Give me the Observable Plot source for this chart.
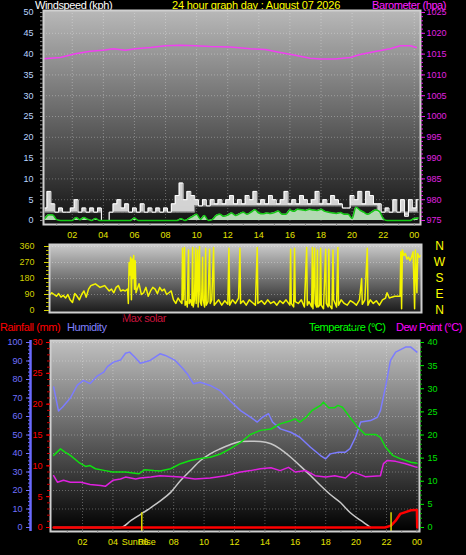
<!DOCTYPE html>
<html><head><meta charset="utf-8">
<script src="https://cdn.jsdelivr.net/npm/d3@7"></script>
<script src="https://cdn.jsdelivr.net/npm/@observablehq/plot@0.6"></script>
<style>
html,body{margin:0;padding:0;background:#000;}
#wrap{position:relative;width:466px;height:555px;overflow:hidden;background:#000;font-family:"Liberation Sans",Arial,sans-serif;}
#wrap svg{position:absolute;left:0;top:0;background:transparent;overflow:visible;}
.lbl{position:absolute;white-space:nowrap;font-size:11px;line-height:11px;letter-spacing:-0.4px;}
</style></head><body>
<div id="wrap">
  <div class="lbl" style="left:35px;top:0px;color:#ffffff">Windspeed (kph)</div>
  <div class="lbl" style="left:172px;top:0px;color:#ffff00;letter-spacing:-0.2px">24 hour graph day : August 07 2026</div>
  <div class="lbl" style="left:372px;top:0px;color:#ff20ff">Barometer (hpa)</div>
  <div class="lbl" style="left:122px;top:313px;color:#c8143c">Max solar</div>
  <div class="lbl" style="left:0px;top:322px;color:#ff0000">Rainfall (mm)</div>
  <div class="lbl" style="left:67px;top:322px;color:#8080ff">Humidity</div>
  <div class="lbl" style="left:309px;top:322px;color:#00ff00;letter-spacing:-0.5px">Temperature (°C)</div>
  <div class="lbl" style="left:396px;top:322px;color:#ff00ff;letter-spacing:-0.5px">Dew Point (°C)</div>
</div>
<script>
// ---------- Top panel: wind (kph) & barometer (hPa) ----------
const baroHour = [0.14,1.23,2.19,3.16,4.12,4.64,5.41,6.05,7.02,7.98,8.95,9.91,10.88,12.16,13.45,14.41,15.38,16.34,17.3,17.95,18.91,19.88,20.52,21.49,22.45,23.1,23.74,24.13];
const baroVal  = [1013.9,1014.2,1015.1,1015.7,1016.0,1016.3,1015.9,1016.3,1016.6,1017.0,1017.1,1017.0,1016.8,1016.7,1016.3,1016.1,1015.4,1014.7,1014.0,1013.8,1013.8,1014.2,1014.9,1015.6,1016.3,1017.0,1017.0,1016.6];

const windHour = [0.25,0.5,0.75,1,1.25,1.5,1.75,2,2.25,2.5,2.75,3,3.25,3.5,3.75,4,4.25,4.5,4.75,5,5.25,5.5,5.75,6,6.25,6.5,6.75,7,7.25,7.5,7.75,8,8.25,8.5,8.75,9,9.25,9.5,9.75,10,10.25,10.5,10.75,11,11.25,11.5,11.75,12,12.25,12.5,12.75,13,13.25,13.5,13.75,14,14.25,14.5,14.75,15,15.25,15.5,15.75,16,16.25,16.5,16.75,17,17.25,17.5,17.75,18,18.25,18.5,18.75,19,19.25,19.5,19.75,20,20.25,20.5,20.75,21,21.25,21.5,21.75,22,22.25,22.5,22.75,23,23.25,23.5,23.75,24,24.25];
const windGust = [3,7,4,2, 3,2,2,3, 5,2,3,2, 3,2,3,0, 0,2,4,5, 3,4,2,3, 2,4,2,3, 2,3,2,3, 2,4,6,9, 5,7,6,5, 3.5,5,3.5,5, 4,5,4,5, 6,4,5,4, 6,5,7,4, 5,4,6,5, 4,5,7,4, 5,4,6,5, 4,5,7,4, 5,4,6,5, 4,3,3,6, 5,7,4,7, 6,4,4,2, 3,2,5,2, 5,1,5,3, 5];
const windLow  = [2,2,2,2, 2,2,2,2, 2,2,2,2, 2,2,2,0, 0,2,2,2, 2,2,2,2, 2,2,2,2, 2,2,2,2, 2,2,2,2, 2,2,2,3.5, 3.5,3.5,3.5,3.5, 3.5,3.5,3.5,3.5, 3.5,3.5,3.5,3.5, 3.5,3.5,3.5,3.5, 3.5,3.5,3.5,3.5, 3.5,3.5,3.5,3.5, 3.5,3.5,3.5,3.5, 3.5,3.5,3.5,3.5, 3.5,3.5,3.5,3.5, 3.5,3,3,3.5, 3.5,3.5,3.5,3.5, 3.5,3.5,2,2, 2,2,2,2, 2,2,2,2, 2];
const windAvg  = [0.5,1.4,1.3,0.2, 0,0,0,0, 0.7,0.2,0.7,0.3, 0,0.5,0,0, 0,0,0,0, 0,0,0,0.6, 0,0,0,0, 0,0,0,0, 0,0,0,0.4, 0,0.5,1.0,1.5, 0.3,1.2,0,0.2, 1.2,1.5,1.0,1.3, 1.8,1.2,1.6,2.0, 1.5,2.0,2.6,1.8, 1.6,1.8,1.7,1.9, 2.3,1.5,1.5,2.5, 2.2,2.7,2.6,2.4, 2.7,2.5,2.4,2.7, 2.2,2.0,1.8,1.7, 1.9,1.5,1.5,0.5, 3.2,2.5,2.0,1.5, 2.0,2.5,2.2,0.5, 0,0,0,0, 0,0,0,0.5, 0.6];

// ---------- Middle panel: wind direction (degrees) ----------
const dirHour = [
  0.2,0.3,0.45,0.6,0.75,0.9,1.05,1.2,1.35,1.5,1.65,1.8,1.95,2.1,2.25,2.4,2.55,2.7,2.85,3.0,3.15,3.3,3.45,3.6,3.75,3.9,4.05,4.2,4.35,4.5,4.65,4.8,4.95,5.1,5.25,
  5.3,5.35,5.4,5.45,5.5,5.55,5.6,5.65,5.7,5.75,5.8,
  6.0,6.15,6.3,6.45,6.6,6.75,6.9,7.05,7.2,7.35,7.5,7.65,7.8,7.95,8.1,8.25,8.4,8.55,8.7,
  8.8,8.84,8.88,8.97,9.01,9.1,9.15,9.23,9.27,9.35,9.45,9.5,9.54,9.62,9.69,9.73,9.82,9.86,9.95,9.99,10.08,10.15,10.19,10.28,10.35,10.39,10.5,10.61,10.65,10.75,10.87,10.91,
  11.0,11.2,11.4,11.6,11.8, 11.87,11.92,12.1,12.3,12.5, 12.59,12.63,12.8,13.0,13.2, 13.4,13.6,13.72,13.76,14.0, 14.2,14.4,14.6,14.8,15.0, 15.2,15.4,15.6,15.85,15.9, 15.94,16.1,16.16,16.2,16.4, 16.6,16.8,16.95,16.99,17.1, 17.28,17.32,17.36,17.47,17.51, 17.6,17.65,17.69,17.8,17.86, 17.9,18.05,18.19,18.23,18.35, 18.4,18.44,18.6,18.67,18.71, 18.9,18.99,19.03,19.2,19.4, 19.6,19.8,20.0,20.2,20.4, 20.54,20.58,20.75,20.91,20.95, 21.1,21.3,21.5,21.7,21.9, 22.1,22.2,22.35,22.5,22.7, 22.9,23.05,
  23.1,23.15,23.2,23.3,23.4,23.5,23.6,23.7,23.8,23.9,24.0,24.05,24.15,24.2,24.3,24.4];
const dirDeg = [
  90,100,90,80,95,75,85,70,90,60,45,95,80,60,90,110,75,120,140,145,150,140,130,135,140,125,110,120,100,130,140,110,115,110,120,
  40,270,200,300,60,290,180,310,120,280,100,
  150,90,100,130,80,110,130,120,95,130,110,120,90,100,110,60,40,70,50,
  40,350,60,355,30,50,20,340,40,60,30,355,20,60,350,40,340,20,360,50,30,300,60,20,350,30,50,345,40,60,355,30,
  40,60,30,55,35, 350,30,60,40,70, 350,40,55,30,60, 45,30,355,40,55, 35,60,40,50,30, 55,40,60,30,345, 40,20,350,50,40, 60,20,355,30,50, 20,355,10,350,40, 20,340,20,30,350, 30,10,345,40,20, 345,30,10,340,60, 20,355,30,60,40, 30,55,45,30,60, 180,35,60,350,30, 60,40,55,30,60, 70,100,70,75,80, 80,80,
  330,10,340,310,320,290,300,280,300,330,10,340,100,320,300,310];
const compassLetters = ["N","W","S","E","N"];
const compassDeg = [360,270,180,90,0];

// ---------- Bottom panel ----------
const humHour = [0.1,0.42,0.68,1.2,1.66,2.06,2.5,2.99,3.4,3.64,4.04,4.5,4.83,5.1,5.45,5.8,6.45,7.1,7.45,8.1,8.6,8.9,9.3,9.74,10.4,11.05,11.7,12.4,13.05,13.5,13.84,14.24,14.5,15.02,15.7,16.3,17.0,17.66,18.0,18.3,18.84,19.3,19.6,19.96,20.3,20.95,21.4,21.6,21.93,22.26,22.6,23.25,23.6,24.0];
const humVal  = [76,63,65,70,77,79.5,77.8,82,84,87,89.4,90.5,94.2,94.8,92,88.8,90.3,93.9,93,90.3,86,83,77.7,78.5,76.8,74,68.6,63.2,59.6,57,59.6,61.5,57,53.3,51.5,48.8,43.4,38.9,37.1,39.8,40.7,40.7,42.7,48.8,57,57.8,59.6,63.2,75.8,90.3,94.8,97.5,97.5,94.8];
const tempHour = [0.1,0.55,0.85,1.2,1.75,2.2,2.5,2.85,3.5,3.97,4.83,5.7,6.1,6.7,7.1,7.8,8.45,9.1,9.76,10.4,11.07,11.7,12.4,13.05,13.7,14.4,15.0,15.7,16.0,16.3,16.7,17.1,17.66,17.85,18.2,18.6,18.8,19.1,19.6,20.1,20.6,21.3,21.6,21.93,22.4,22.9,23.6,24.0];
const tempVal  = [15.6,17.0,16.3,15.6,14.1,13.2,13.4,12.7,12.3,12.0,12.0,11.6,12.5,12.3,12.2,12.7,13.8,14.5,14.9,15.2,15.9,17.0,18.4,20.1,21.0,21.3,22.4,23.1,23.5,22.8,23.8,25.3,26.4,27.1,25.9,25.9,26.4,26.0,23.8,21.7,20.1,20.1,19.5,17.4,15.6,14.9,14.1,13.9];
const dewHour = [0.1,0.35,0.75,1.2,1.9,2.5,3.2,3.5,4.0,4.5,4.83,5.5,5.8,6.5,7.1,8.45,9.4,10.4,11.4,12.4,13.05,13.7,14.4,15.0,15.55,16.0,16.7,17.3,18.0,18.6,19.3,19.75,20.15,20.6,21.6,21.8,22.06,22.6,23.25,24.0];
const dewVal  = [11.2,9.8,10.2,9.8,9.8,9.3,9.1,8.9,10.2,10.5,10.9,10.5,10.7,10.9,11.2,10.9,10.5,10.7,11.2,12.0,12.3,12.7,12.9,12.3,13.0,12.0,12.3,11.2,10.9,11.2,10.7,12.0,11.6,11.0,11.2,13.8,14.5,14.3,13.8,13.0];
const solarHour = [0.1,4.5,5.2,5.8,6.5,7.1,7.8,8.45,9.1,9.76,10.4,11.07,11.7,12.4,13.05,13.7,14.4,15.0,15.7,16.3,17.0,17.66,18.3,18.97,19.6,20.3,20.95];
const solarVal  = [0,0,76,140,216,285,380,508,616,724,797,851,894,930,933,930,905,851,760,670,562,454,357,270,162,76,0];
const rainHour = [0.1,21.9,22.3,22.6,22.9,23.25,23.6,23.9,24.0,24.02];
const rainVal  = [0,0,0.3,1.1,2.2,2.5,2.8,2.85,2.85,0];
const markerHours = [5.9, 22.3];
const markerLabel = "SunRise";

// ---------- helpers ----------
const FONT = "'Liberation Sans', Arial, Helvetica, sans-serif";
const fmtH = d => String(d % 24).padStart(2, "0");
const blank = () => "";
const wrap = document.getElementById("wrap");
function addPlot(opts, gid, c0, c1) {
  const svg = Plot.plot({
    width: 466, height: 555, ...opts,
    style: {background: "transparent", fontFamily: FONT, fontSize: "9px", overflow: "visible"}
  });
  const ns = "http://www.w3.org/2000/svg";
  const defs = document.createElementNS(ns, "defs");
  defs.innerHTML = `<linearGradient id="${gid}" x1="0" y1="0" x2="0" y2="1"><stop offset="0" stop-color="${c0}"/><stop offset="1" stop-color="${c1}"/></linearGradient>`;
  svg.insertBefore(defs, svg.firstChild);
  wrap.appendChild(svg);
}
const dotted = {stroke: "#ffffff", strokeOpacity: 0.3, strokeDasharray: "1,2"};

// ---------- top ----------
const wind = windHour.map((h, i) => ({h, gust: windGust[i], low: windLow[i], avg: windAvg[i]}));
const baro = baroHour.map((h, i) => ({h, p: baroVal[i]}));
addPlot({
  marginLeft: 43, marginRight: 46, marginTop: 10, marginBottom: 555 - 224,
  x: {domain: [0.15, 24.4]}, y: {domain: [-0.96, 50.48]},
  marks: [
    Plot.frame({fill: "url(#gTop)"}),
    Plot.gridY(d3.range(5, 50, 5), dotted),
    Plot.gridX(d3.range(2, 25, 2), dotted),
    Plot.areaY(wind, {x: "h", y1: "low", y2: "gust", fill: "#f2f2f2", fillOpacity: 0.85, curve: "step"}),
    Plot.line(wind, {x: "h", y: "low", stroke: "#9a9a9a", strokeWidth: 1, curve: "step"}),
    Plot.line(wind, {x: "h", y: "gust", stroke: "#ffffff", strokeWidth: 1, curve: "step"}),
    Plot.areaY(wind, {x: "h", y: "avg", fill: "#c4eec4", fillOpacity: 0.9, curve: "monotone-x"}),
    Plot.line(wind, {x: "h", y: "avg", stroke: "#14c814", strokeWidth: 1.5, curve: "monotone-x"}),
    Plot.line(baro, {x: "h", y: d => d.p - 975, stroke: "#f040f0", strokeWidth: 1.5}),
    Plot.frame({stroke: "#d0d0d0", strokeWidth: 2}),
    Plot.axisY(d3.range(0, 51, 1), {anchor: "left", tickSize: 3, tickFormat: blank, color: "#8a8a8a", label: null}),
    Plot.axisY(d3.range(0, 51, 5), {anchor: "left", tickSize: 0, tickPadding: 10, tickFormat: d => String(d), color: "#b8d4ff", label: null}),
    Plot.axisY(d3.range(0, 51, 1), {anchor: "right", tickSize: 2, tickFormat: blank, color: "#e020e0", label: null}),
    Plot.axisY(d3.range(0, 51, 5), {anchor: "right", tickSize: 4, tickPadding: 2, tickFormat: d => String(d + 975), color: "#e020e0", label: null}),
    Plot.axisX(d3.range(1, 25, 1), {anchor: "bottom", tickSize: 2, tickFormat: blank, color: "#888888", label: null}),
    Plot.axisX(d3.range(2, 25, 2), {anchor: "bottom", tickSize: 0, tickPadding: 7, tickFormat: fmtH, color: "#e4e400", label: null})
  ]
}, "gTop", "#b8b8b8", "#121212");

// ---------- middle ----------
const dir = dirHour.map((h, i) => ({h, d: dirDeg[i]}));
addPlot({
  marginLeft: 49, marginRight: 45, marginTop: 244, marginBottom: 555 - 312,
  x: {domain: [0.15, 24.45]}, y: {domain: [-11.25, 371.25]},
  marks: [
    Plot.frame({fill: "url(#gMid)"}),
    Plot.gridY([90, 180, 270, 360], dotted),
    Plot.line(dir, {x: "h", y: "d", stroke: "#f4f400", strokeWidth: 1.5}),
    Plot.frame({stroke: "#cfcfcf", strokeWidth: 2}),
    Plot.axisY(d3.range(0, 361, 22.5), {anchor: "left", tickSize: 3, tickFormat: blank, color: "#b8b800", label: null}),
    Plot.axisY([0, 90, 180, 270, 360], {anchor: "left", tickSize: 5, tickPadding: 10, tickFormat: d => String(d), color: "#d0d000", label: null}),
    Plot.text(compassLetters, {x: () => 24.45, y: (d, i) => compassDeg[i], text: d => d, dx: 18, fill: "#ffff00", fontSize: 12})
  ]
}, "gMid", "#cacaca", "#1a1a1a");

// ---------- bottom ----------
const RAIN = 100 / 30, TEMP = 2.5, SOLAR = 1 / 20;
const hum = humHour.map((h, i) => ({h, v: humVal[i]}));
const temp = tempHour.map((h, i) => ({h, v: tempVal[i] * TEMP}));
const dew = dewHour.map((h, i) => ({h, v: dewVal[i] * TEMP}));
const solar = solarHour.map((h, i) => ({h, v: solarVal[i] * SOLAR}));
const rain = rainHour.map((h, i) => ({h, v: rainVal[i] * RAIN}));
addPlot({
  marginLeft: 50, marginRight: 47, marginTop: 340, marginBottom: 555 - 531,
  x: {domain: [-0.105, 24.17]}, y: {domain: [-2.16, 101.08]},
  marks: [
    Plot.frame({fill: "url(#gBot)"}),
    Plot.gridY(d3.range(10, 101, 10), dotted),
    Plot.gridX(d3.range(2, 25, 2), dotted),
    Plot.line(solar, {x: "h", y: "v", stroke: "#c8c8c8", strokeWidth: 1.5, curve: "monotone-x"}),
    Plot.line(hum, {x: "h", y: "v", stroke: "#7c7cff", strokeWidth: 1.5}),
    Plot.line(temp, {x: "h", y: "v", stroke: "#10e010", strokeWidth: 1.5}),
    Plot.line(dew, {x: "h", y: "v", stroke: "#e020e0", strokeWidth: 1.5}),
    Plot.line(rain, {x: "h", y: "v", stroke: "#ff0000", strokeWidth: 2.5}),
    Plot.ruleX(markerHours, {y1: -2.16, y2: 8, stroke: "#d8d800", strokeWidth: 1.5}),
    Plot.frame({stroke: "#cfcfcf", strokeWidth: 2}),
    // humidity axis (far left)
    Plot.ruleX([-0.105], {y1: -2.16, y2: 101.08, dx: -20, stroke: "#6a6aff", strokeWidth: 2.5}),
    Plot.axisY(d3.range(0, 101, 2), {anchor: "left", dx: -20, tickSize: 2, tickFormat: blank, color: "#6a6aff", label: null}),
    Plot.axisY(d3.range(0, 101, 10), {anchor: "left", dx: -20, tickSize: 4, tickPadding: 4, tickFormat: d => String(d), color: "#7070ff", label: null}),
    // rain axis
    Plot.axisY(d3.range(0, 31, 1).map(r => r * RAIN), {anchor: "left", tickSize: 3, tickFormat: blank, color: "#d00000", label: null}),
    Plot.axisY(d3.range(0, 31, 5).map(r => r * RAIN), {anchor: "left", tickSize: 4, tickPadding: 4, tickFormat: d => String(Math.round(d / RAIN)), color: "#ff0000", label: null}),
    // temperature axis
    Plot.axisY(d3.range(0, 41, 1).map(t => t * TEMP), {anchor: "right", tickSize: 2, tickFormat: blank, color: "#00c000", label: null}),
    Plot.axisY(d3.range(0, 41, 5).map(t => t * TEMP), {anchor: "right", tickSize: 4, tickPadding: 4, tickFormat: d => String(Math.round(d / TEMP)), color: "#00e000", label: null}),
    // time axis
    Plot.axisX(d3.range(1, 25, 1), {anchor: "bottom", tickSize: 2, tickFormat: blank, color: "#888888", label: null}),
    Plot.axisX(d3.range(2, 25, 2), {anchor: "bottom", tickSize: 0, tickPadding: 7, tickFormat: fmtH, color: "#e4e400", label: null}),
    Plot.text([markerLabel], {x: () => markerHours[0], y: () => -2.16, dy: 11, dx: -3, text: d => d, fill: "#e4e400", fontSize: 9})
  ]
}, "gBot", "#c0c0c0", "#000000");
</script>
</body></html>
